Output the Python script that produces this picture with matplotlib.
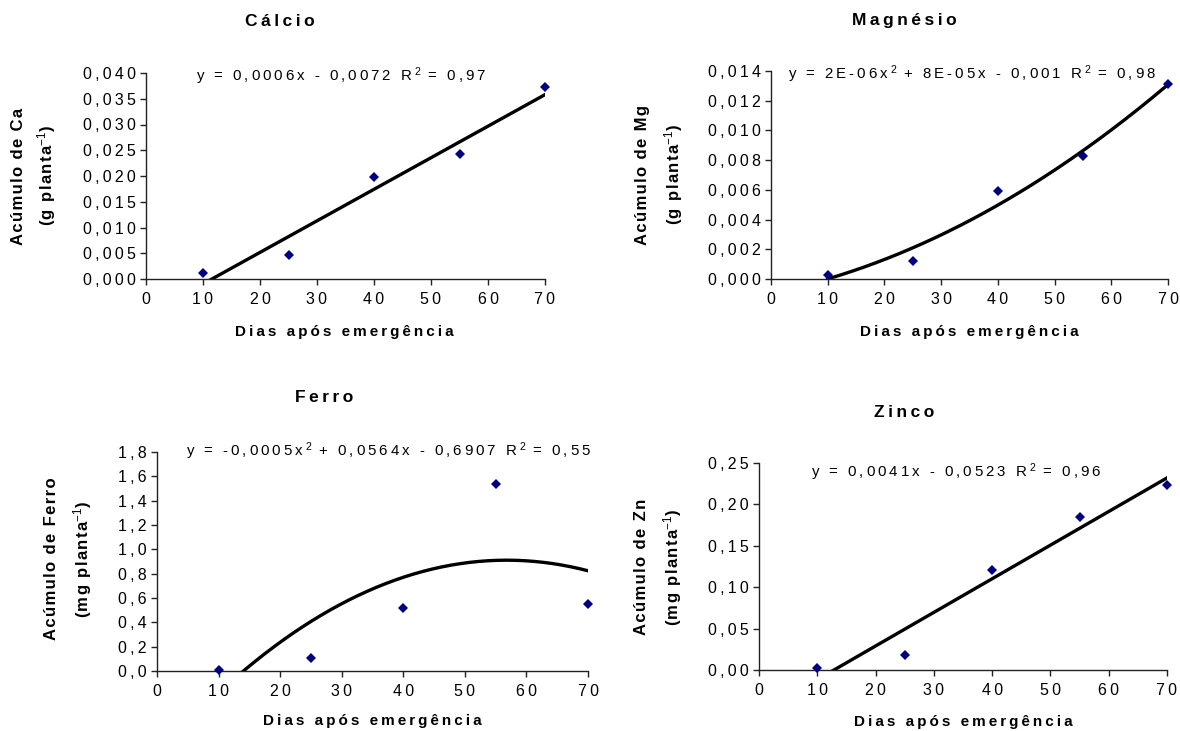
import numpy as np
import matplotlib.pyplot as plt

plt.rcParams['font.family'] = ['Liberation Sans', 'DejaVu Sans']
plt.rcParams['mathtext.fontset'] = 'custom'
plt.rcParams['mathtext.rm'] = 'Liberation Sans'
plt.rcParams['mathtext.it'] = 'Liberation Sans:italic'
plt.rcParams['mathtext.bf'] = 'Liberation Sans:bold'

# dias apos emergencia e acumulo de cada nutriente
dias = [10, 25, 40, 55, 70]
calcio = [0.0011, 0.0046, 0.0199, 0.0243, 0.0372]
magnesio = [0.0003, 0.0012, 0.0059, 0.0083, 0.0131]
ferro = [0.01, 0.11, 0.52, 1.54, 0.55]
zinco = [0.003, 0.018, 0.121, 0.185, 0.224]

titulos = ['Cálcio', 'Magnésio', 'Ferro', 'Zinco']
ylab1 = ['Acúmulo de Ca', 'Acúmulo de Mg', 'Acúmulo de Ferro', 'Acúmulo de Zn']
ylab2 = ['(g planta', '(g planta', '(mg planta', '(mg planta']
equacoes = [
    ['y = 0,0006x - 0,0072 R', '2', ' = 0,97'],
    ['y = 2E-06x', '2', ' + 8E-05x - 0,001 R', '2', ' = 0,98'],
    ['y = -0,0005x', '2', ' + 0,0564x - 0,6907 R', '2', ' = 0,55'],
    ['y = 0,0041x - 0,0523 R', '2', ' = 0,96'],
]
graus = [1, 2, 2, 1]
ymax = [0.040, 0.014, 1.8, 0.25]
ystep = [0.005, 0.002, 0.2, 0.05]
ydec = [3, 3, 1, 2]
xticks = [0, 10, 20, 30, 40, 50, 60, 70]

W, H = 1180, 731
fig = plt.figure(figsize=(W / 100, H / 100), dpi=100)


def sp(s, gap='\u2009'):
    return gap.join(s)


def eq_text(parts):
    out = ''
    for i, p in enumerate(parts):
        if i % 2 == 1:
            out += '\u2009$^{' + p + '}$'
        else:
            out += sp(p)
    return out


def fx(x):
    return x / W


def fy(y):
    return 1 - y / H


# posicoes em pixels: eixo (l, t, r, b), titulo, eq, rotulos
layout = [
    dict(ax=(146, 73, 545, 279), tit=(280, 22), eq=(196, 76), xl=(344, 332), yl=(19, 47, 176)),
    dict(ax=(771, 71, 1168, 279), tit=(904, 21), eq=(788, 74), xl=(969, 332), yl=(643, 674, 175)),
    dict(ax=(157, 452, 588, 671), tit=(324, 397), eq=(186, 451), xl=(372, 721), yl=(52, 83, 559)),
    dict(ax=(759, 463, 1167, 670), tit=(904, 412), eq=(811, 472), xl=(963, 722), yl=(642, 673, 567)),
]

series = [calcio, magnesio, ferro, zinco]

for k in range(4):
    L = layout[k]
    l, t, r, b = L['ax']
    ax = fig.add_axes([fx(l), fy(b), (r - l) / W, (b - t) / H])
    ax.set_xlim(0, 70)
    ax.set_ylim(0, ymax[k])

    coef = np.polyfit(dias, series[k], graus[k])
    xs = np.linspace(dias[0], dias[-1], 200)
    ax.plot(xs, np.polyval(coef, xs), color='black', lw=2.4, zorder=2)
    ax.plot(dias, series[k], 'D', color='#000080', ms=5.5, mew=0,
            clip_on=False, zorder=3)

    yt = np.round(np.arange(0, ymax[k] + ystep[k] / 2, ystep[k]), 6)
    ax.set_yticks(yt, labels=[sp(f'{v:.{ydec[k]}f}'.replace('.', ',')) for v in yt])
    ax.set_xticks(xticks, labels=[sp(str(v)) for v in xticks])
    ax.tick_params(direction='out', length=4.5, width=1, color='#222222',
                   labelsize=11.5)
    ax.tick_params(axis='y', pad=3)
    ax.tick_params(axis='x', pad=5)
    for s in ['top', 'right']:
        ax.spines[s].set_visible(False)
    for s in ['left', 'bottom']:
        ax.spines[s].set_color('#222222')
        ax.spines[s].set_linewidth(1)

    fig.text(fx(L['tit'][0]), fy(L['tit'][1]), sp(titulos[k]), ha='center',
             va='center', fontsize=12.5, fontweight='bold')
    fig.text(fx(L['eq'][0]), fy(L['eq'][1]), eq_text(equacoes[k]), ha='left',
             va='center', fontsize=10.8)
    fig.text(fx(L['xl'][0]), fy(L['xl'][1]), sp('Dias após emergência'),
             ha='center', va='center', fontsize=11, fontweight='bold')
    x1, x2, yc = L['yl']
    fig.text(fx(x1), fy(yc), sp(ylab1[k], '\u200a'), rotation=90, ha='center',
             va='center', fontsize=12, fontweight='bold')
    fig.text(fx(x2), fy(yc), sp(ylab2[k], '\u200a') + '$^{-1}$)', rotation=90,
             ha='center', va='center', fontsize=12, fontweight='bold')

fig.savefig('out.png', dpi=100)
